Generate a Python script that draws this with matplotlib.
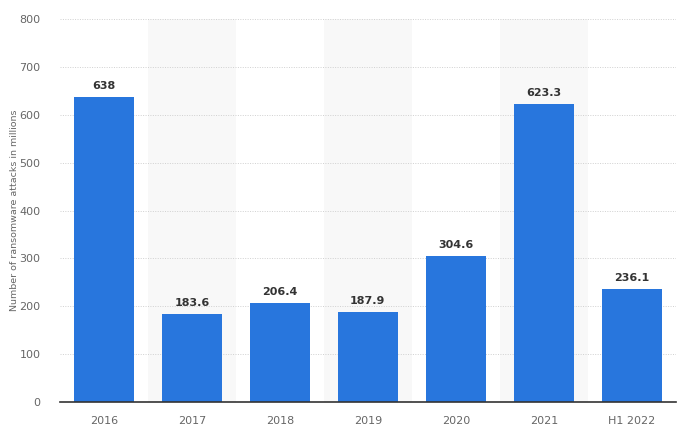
import matplotlib.pyplot as plt
import numpy as np

categories = ['2016', '2017', '2018', '2019', '2020', '2021', 'H1 2022']
values = [638, 183.6, 206.4, 187.9, 304.6, 623.3, 236.1]
labels = ['638', '183.6', '206.4', '187.9', '304.6', '623.3', '236.1']

fig = plt.figure(figsize=(6.86, 4.34), dpi=100)
ax = fig.add_axes([0.0875, 0.0737, 0.8975, 0.8823])

x = np.arange(len(categories))

# alternating column shading
for i in x:
    if i % 2 == 1:
        ax.axvspan(i - 0.5, i + 0.5, color='#f8f8f8', zorder=0, lw=0)

ax.bar(x, values, width=0.68, color='#2876dd', zorder=3)

for xi, v, t in zip(x, values, labels):
    ax.text(xi, v + 12, t, ha='center', va='bottom', fontsize=8,
            fontweight='bold', color='#333333', zorder=4)

ax.set_xlim(-0.5, len(categories) - 0.5)
ax.set_ylim(0, 800)
ax.set_yticks(range(0, 801, 100))
ax.set_xticks(x)
ax.set_xticklabels(categories)
ax.yaxis.grid(True, linestyle=(0, (1, 1.5)), color='#d0d0d0', linewidth=0.7, zorder=1)
ax.set_axisbelow(True)

for s in ['top', 'right', 'left']:
    ax.spines[s].set_visible(False)
ax.spines['bottom'].set_color('#333333')
ax.spines['bottom'].set_linewidth(1.2)
ax.spines['bottom'].set_zorder(5)

ax.tick_params(axis='both', length=0, labelsize=8, labelcolor='#666666')
ax.tick_params(axis='x', pad=10)
ax.tick_params(axis='y', pad=14)

ax.set_ylabel('Number of ransomware attacks in millions', fontsize=6.8, color='#666666')
ax.yaxis.set_label_coords(-0.066, 0.5)

fig.savefig('out.png', dpi=100)
